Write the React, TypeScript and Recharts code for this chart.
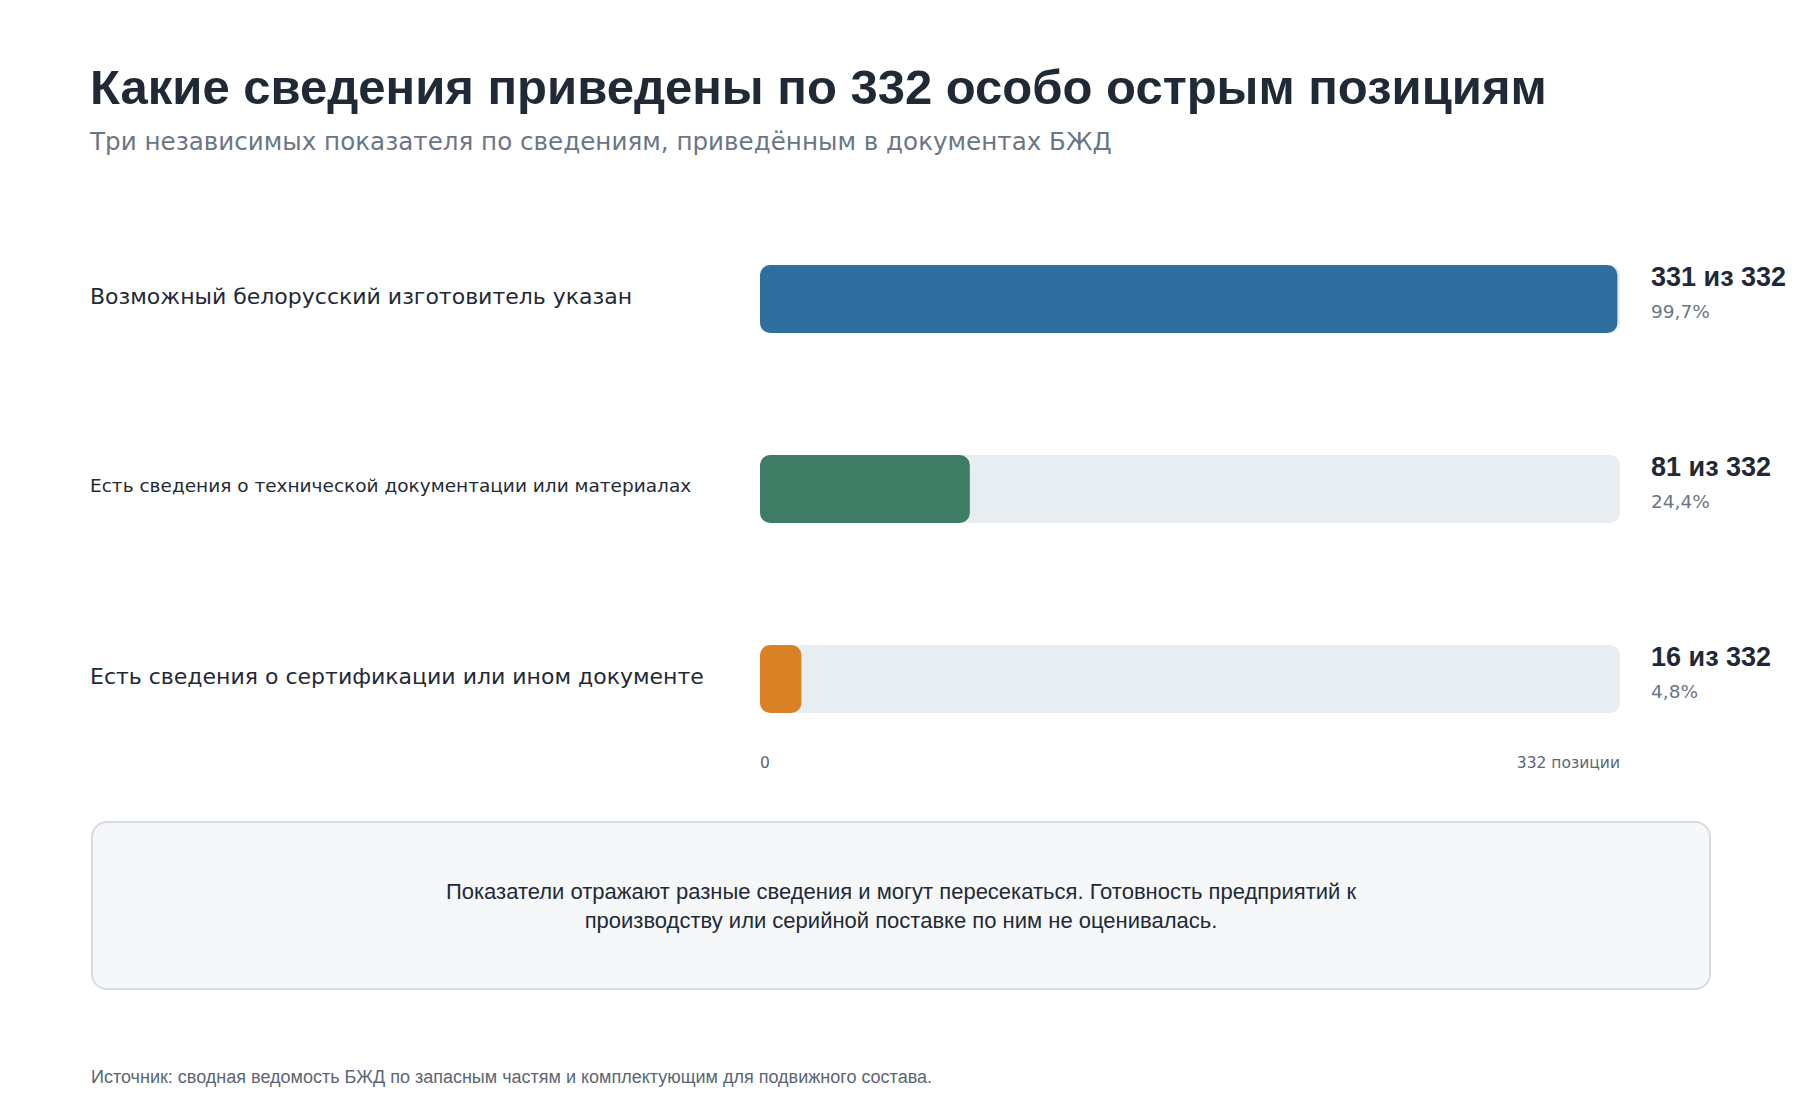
import React from "react";
import { BarChart, Bar, XAxis, YAxis, Cell } from "recharts";

const TITLE = "Какие сведения приведены по 332 особо острым позициям";
const SUBTITLE = "Три независимых показателя по сведениям, приведённым в документах БЖД";
const NOTE_LINES = [
  "Показатели отражают разные сведения и могут пересекаться. Готовность предприятий к",
  "производству или серийной поставке по ним не оценивалась.",
];
const SOURCE = "Источник: сводная ведомость БЖД по запасным частям и комплектующим для подвижного состава.";

const categories = [
  "Возможный белорусский изготовитель указан",
  "Есть сведения о технической документации или материалах",
  "Есть сведения о сертификации или ином документе",
];
const values = [331, 81, 16];
const TOTAL = 332;
const barColors = ["#2f6f9f", "#3e7c65", "#d98124"];
const xTicks = [0, TOTAL];
const xTickLabels = ["0", "332 позиции"];

const FONT = '"Liberation Sans", Arial, Helvetica, sans-serif';
const FONT_R = '"DejaVu Sans", Verdana, sans-serif';
const TEXT_DARK = "#1f2a36";
const TEXT_GRAY = "#6b7684";

const data = categories.map((name, i) => ({ name, value: values[i] }));

function fitFont(text: string, base: number, maxW: number): number {
  let fs = base;
  try {
    const ctx = document.createElement("canvas").getContext("2d");
    if (!ctx) return base;
    while (fs > 12) {
      ctx.font = `${fs}px "DejaVu Sans", Verdana, sans-serif`;
      if (ctx.measureText(text).width <= maxW) break;
      fs -= 0.5;
    }
  } catch (e) {
    return base;
  }
  return fs;
}

const LeftTick = (props: any) => {
  const { y, payload } = props;
  const text = String(payload.value);
  const fs = fitFont(text, 22, 615);
  return (
    <text x={90} y={y - 3.5} dy="0.365em" textAnchor="start" fontSize={fs} fill={TEXT_DARK} fontFamily={FONT_R}>
      {text}
    </text>
  );
};

const BottomTick = (props: any) => {
  const { x, y, payload, index } = props;
  const first = payload.value === xTicks[0];
  return (
    <text
      x={x}
      y={y - 14}
      textAnchor={first ? "start" : "end"}
      fontSize={15.5}
      fill="#5b6673"
      fontFamily={FONT_R}
    >
      {xTickLabels[index] ?? String(payload.value)}
    </text>
  );
};

const Track = (props: any) => {
  const { x, y, width, height, index } = props;
  const v = values[index];
  const pct = ((v / TOTAL) * 100).toFixed(1).replace(".", ",");
  const lx = x + width + 31;
  return (
    <g>
      <rect x={x} y={y} width={width} height={height} rx={10} ry={10} fill="#e8edf1" />
      <text x={lx} y={y + 21} fontSize={27} fontWeight={700} fill={TEXT_DARK} fontFamily={FONT}>
        {`${v} из ${TOTAL}`}
      </text>
      <text x={lx} y={y + 53} fontSize={18.5} fill={TEXT_GRAY} fontFamily={FONT_R}>
        {`${pct}%`}
      </text>
    </g>
  );
};

export default function App() {
  return (
    <div
      style={{
        position: "absolute",
        left: 0,
        top: 0,
        width: 1800,
        height: 1120,
        background: "#ffffff",
        fontFamily: FONT,
        overflow: "hidden",
      }}
    >
      <div
        style={{
          position: "absolute",
          left: 90,
          top: 63,
          fontSize: 49,
          lineHeight: "49px",
          fontWeight: 700,
          color: TEXT_DARK,
          whiteSpace: "nowrap",
        }}
      >
        {TITLE}
      </div>
      <div
        style={{
          position: "absolute",
          left: 90,
          top: 129,
          fontSize: 24.6,
          lineHeight: "25px",
          fontFamily: FONT_R,
          color: TEXT_GRAY,
          whiteSpace: "nowrap",
        }}
      >
        {SUBTITLE}
      </div>

      <div style={{ position: "absolute", left: 0, top: 0 }}>
        <BarChart
          width={1800}
          height={840}
          data={data}
          layout="vertical"
          margin={{ top: 204, right: 180, bottom: 36, left: 90 }}
        >
          <XAxis
            type="number"
            domain={[0, TOTAL]}
            ticks={xTicks}
            axisLine={false}
            tickLine={false}
            height={30}
            tick={<BottomTick />}
            interval={0}
          />
          <YAxis
            type="category"
            dataKey="name"
            width={670}
            axisLine={false}
            tickLine={false}
            tick={<LeftTick />}
            interval={0}
          />
          <Bar
            dataKey="value"
            barSize={68}
            radius={10}
            background={(p: any) => <Track {...p} />}
            isAnimationActive={false}
          >
            {data.map((d, i) => (
              <Cell key={d.name} fill={barColors[i]} />
            ))}
          </Bar>
        </BarChart>
      </div>

      <div
        style={{
          position: "absolute",
          left: 91,
          top: 821,
          width: 1620,
          height: 169,
          boxSizing: "border-box",
          border: "2px solid #d6dce3",
          borderRadius: 16,
          background: "#f5f7f9",
          display: "flex",
          flexDirection: "column",
          alignItems: "center",
          justifyContent: "center",
          fontSize: 22,
          lineHeight: "29px",
          color: TEXT_DARK,
          textAlign: "center",
        }}
      >
        {NOTE_LINES.map((l) => (
          <div key={l} style={{ whiteSpace: "nowrap" }}>{l}</div>
        ))}
      </div>

      <div
        style={{
          position: "absolute",
          left: 91,
          top: 1068,
          fontSize: 18,
          lineHeight: "18px",
          color: "#5b6673",
          whiteSpace: "nowrap",
        }}
      >
        {SOURCE}
      </div>
    </div>
  );
}
